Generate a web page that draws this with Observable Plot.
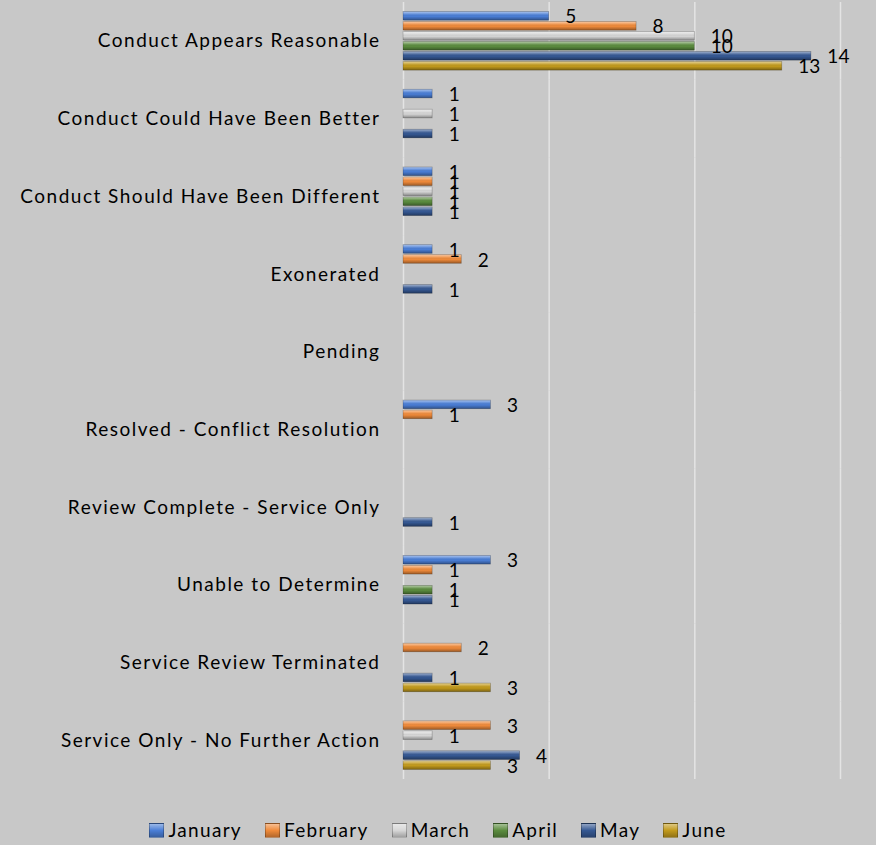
<!DOCTYPE html>
<html><head><meta charset="utf-8">
<script src="https://cdn.jsdelivr.net/npm/d3@7"></script>
<script src="https://cdn.jsdelivr.net/npm/@observablehq/plot@0.6"></script>
<style>
html,body{margin:0;padding:0;background:#c8c8c8;}
body{width:876px;height:845px;overflow:hidden;font-family:Lato,"Liberation Sans",sans-serif;}
#chart svg{display:block;}
#chart g[aria-label="fy-axis tick label"] text{letter-spacing:1.5px;}
#legend{display:flex;justify-content:center;align-items:center;margin-top:24px;font-size:19px;color:#000;line-height:22px;letter-spacing:1.3px;}
#legend .item{display:flex;align-items:center;margin:0 11.5px;}
#legend .sw{width:15px;height:15px;margin-right:4px;box-sizing:border-box;border:1px solid rgba(0,0,0,0.25);}
</style></head><body>
<svg width="0" height="0" style="position:absolute">
<defs>
<linearGradient id="shine" x1="0" y1="0" x2="0" y2="1">
<stop offset="0" stop-color="#fff" stop-opacity="0.55"/>
<stop offset="0.3" stop-color="#fff" stop-opacity="0.15"/>
<stop offset="0.55" stop-color="#000" stop-opacity="0"/>
<stop offset="1" stop-color="#000" stop-opacity="0.35"/>
</linearGradient>
</defs></svg>
<div id="chart"></div>
<div id="legend"></div>
<script>
const months = ["January","February","March","April","May","June"];
const categories = [
  "Conduct Appears Reasonable",
  "Conduct Could Have Been Better",
  "Conduct Should Have Been Different",
  "Exonerated",
  "Pending",
  "Resolved - Conflict Resolution",
  "Review Complete - Service Only",
  "Unable to Determine",
  "Service Review Terminated",
  "Service Only - No Further Action"
];
const colors = ["#4a7ed6","#ef8a3a","#d6d6d6","#5b8c3e","#355893","#c29a1c"];
const january  = [5, 1, 1, 1, null, 3, null, 3, null, null];
const february = [8, null, 1, 2, null, 1, null, 1, 2, 3];
const march    = [10, 1, 1, null, null, null, null, null, null, 1];
const april    = [10, null, 1, null, null, null, null, 1, null, null];
const may      = [14, 1, 1, 1, null, null, 1, 1, 1, 4];
const june     = [13, null, null, null, null, null, null, null, 3, 3];
const xTicks = [0, 5, 10, 15];

const series = [january, february, march, april, may, june];
const rows = [];
categories.forEach((c, i) => {
  months.forEach((m, j) => {
    const v = series[j][i];
    if (v != null) rows.push({category: c, month: m, value: v});
  });
});
const grid = [];
categories.forEach(c => xTicks.forEach(t => grid.push({category: c, x: t})));

const chart = Plot.plot({
  width: 876,
  height: 795,
  marginLeft: 403,
  marginRight: 36,
  marginTop: 2,
  marginBottom: 16,
  style: {background: "transparent", fontFamily: "Lato, 'Liberation Sans', sans-serif", fontSize: "19px", color: "#000"},
  x: {domain: [0, 15], axis: null},
  y: {domain: months, paddingInner: 0.14, paddingOuter: 0.96, round: false, axis: null},
  fy: {domain: categories, padding: 0, round: false, label: null, axis: "left", tickSize: 0, tickPadding: 23},
  color: {domain: months, range: colors},
  marks: [
    Plot.ruleX(grid, {fy: "category", x: "x", stroke: "#e4e4e4", strokeWidth: 1.5}),
    Plot.barX(rows, {fy: "category", y: "month", x: "value", fill: "month"}),
    Plot.barX(rows, {fy: "category", y: "month", x: "value", fill: "url(#shine)", stroke: "#000", strokeOpacity: 0.25, strokeWidth: 0.8}),
    Plot.text(rows, {fy: "category", y: "month", x: "value", text: d => String(d.value), textAnchor: "start", dx: 16, dy: 1, fontSize: 19, fill: "#000"})
  ]
});
document.getElementById("chart").appendChild(chart);

const legend = document.getElementById("legend");
months.forEach((m, j) => {
  const item = document.createElement("div");
  item.className = "item";
  const sw = document.createElement("span");
  sw.className = "sw";
  sw.style.background = `linear-gradient(rgba(255,255,255,0.45), rgba(255,255,255,0) 50%, rgba(0,0,0,0.25)), ${colors[j]}`;
  const t = document.createElement("span");
  t.textContent = m;
  item.appendChild(sw);
  item.appendChild(t);
  legend.appendChild(item);
});
</script>
</body></html>
